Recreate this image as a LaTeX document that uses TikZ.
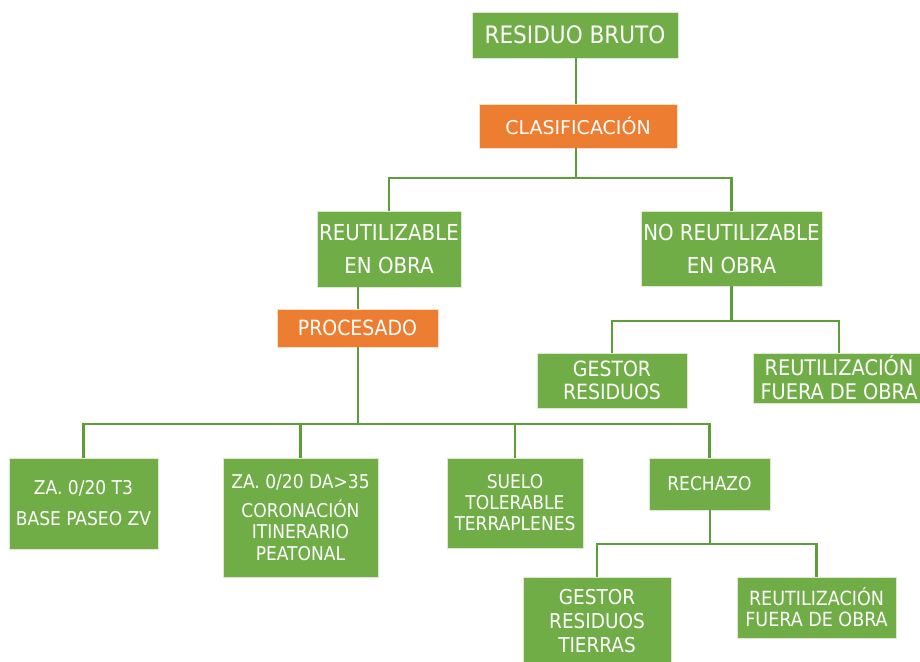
\documentclass[tikz,border=0pt]{standalone}
\usepackage{fontspec}
\setmainfont{DejaVu Sans Condensed}
\newfontfamily\widefont{DejaVu Sans}
\newcommand\myfs[2]{\fontsize{#1}{#2}\selectfont}
\definecolor{gbox}{HTML}{70AD47}
\definecolor{obox}{HTML}{ED7D31}
\definecolor{gline}{HTML}{5E9E3A}
\tikzset{
  gb/.style={draw=white!75!gbox, line width=0.7pt, fill=gbox, text=white, inner sep=0pt, align=center},
  ob/.style={draw=white!75!obox, line width=0.7pt, fill=obox, text=white, inner sep=0pt, align=center},
  conn/.style={draw=gline, line width=2.4pt}
}
\begin{document}
\begin{tikzpicture}[x=1pt,y=-1pt]
\useasboundingbox[fill=white] (0,0) rectangle (920,661);
% junction coordinates
\coordinate (j1) at (576,178);
\coordinate (j2) at (358,424);
\coordinate (j3) at (731.5,321);
\coordinate (j4) at (710,544);
% nodes
\node[gb, minimum width=206, minimum height=46, font=\myfs{24}{29}] (rb) at (575,35) {RESIDUO BRUTO};
\node[ob, minimum width=198, minimum height=44, font=\widefont\myfs{19}{23}] (cl) at (578,126) {CLASIFICACIÓN};
\node[gb, minimum width=144, minimum height=76, font=\myfs{22}{33}] (re) at (389,249) {REUTILIZABLE\\EN OBRA};
\node[gb, minimum width=181, minimum height=75, font=\myfs{22}{33}] (nr) at (731.5,248.5) {NO REUTILIZABLE\\EN OBRA};
\node[ob, minimum width=161, minimum height=38, font=\myfs{21}{25}] (pr) at (357.5,328) {PROCESADO};
\node[gb, minimum width=150, minimum height=55, font=\myfs{21}{23}] (gr) at (612,380.5) {GESTOR\\RESIDUOS};
\node[gb, minimum width=172, minimum height=50, font=\myfs{21.5}{24}] (rf) at (839,378) {REUTILIZACIÓN\\FUERA DE OBRA};
\node[gb, minimum width=149, minimum height=91, font=\myfs{19}{31}] (za) at (83.5,503.5) {ZA. 0/20 T3\\BASE PASEO ZV};
\node[gb, minimum width=155, minimum height=119, font=\myfs{19}{21.5}] (zd) at (300.5,517.5) {ZA. 0/20 DA>35\\[7.5pt]CORONACIÓN\\ITINERARIO\\PEATONAL};
\node[gb, minimum width=136, minimum height=90, font=\myfs{19}{21}] (su) at (515,503) {SUELO\\TOLERABLE\\TERRAPLENES};
\node[gb, minimum width=121, minimum height=52, font=\myfs{19}{23}] (rc) at (709.5,484) {RECHAZO};
\node[gb, minimum width=148, minimum height=88, font=\myfs{20.5}{24}] (gt) at (597,621) {GESTOR\\RESIDUOS\\TIERRAS};
\node[gb, minimum width=159, minimum height=61, font=\myfs{19.5}{21}] (rb2) at (816.5,607.5) {REUTILIZACIÓN\\FUERA DE OBRA};
% connectors
\draw[conn] (rb.south -| j1) -- (cl.north -| j1);
\draw[conn] (cl.south -| j1) -- (j1);
\draw[conn] (re.north) |- (j1) -| (nr.north);
\draw[conn] (re.south -| j2) -- (pr.north -| j2);
\draw[conn] (pr.south -| j2) -- (j2);
\draw[conn] (za.north) |- (j2) -| (rc.north);
\draw[conn] (zd.north) -- (zd.north |- j2);
\draw[conn] (su.north) -- (su.north |- j2);
\draw[conn] (nr.south) -- (j3);
\draw[conn] (gr.north) |- (j3) -| (rf.north);
\draw[conn] (rc.south -| j4) -- (j4);
\draw[conn] (gt.north) |- (j4) -| (rb2.north);
\end{tikzpicture}
\end{document}
